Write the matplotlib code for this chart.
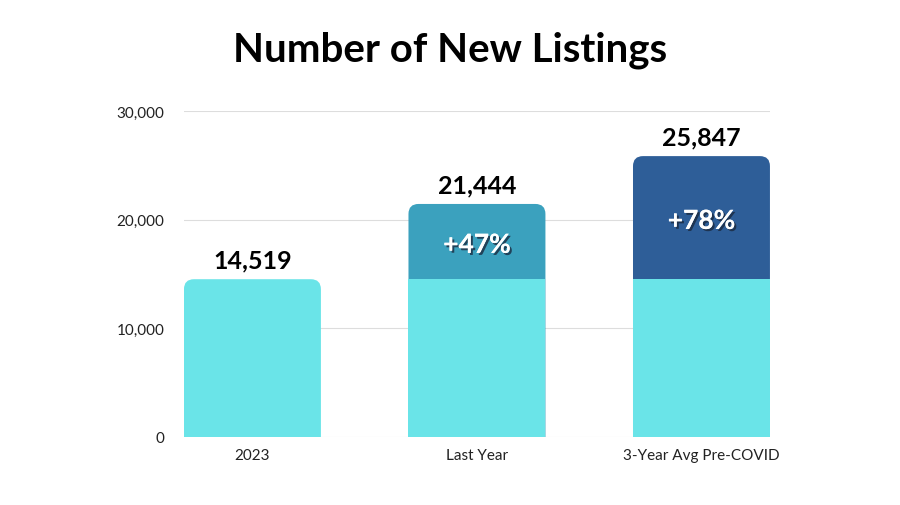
import matplotlib.pyplot as plt
import matplotlib.patheffects as pe
from matplotlib.patches import FancyBboxPatch

categories = ['2023', 'Last Year', '3-Year Avg Pre-COVID']
base_values = [14519, 14519, 14519]
totals = [14519, 21444, 25847]
pct_labels = ['', '+47%', '+78%']
top_colors = ['#6AE4E8', '#3BA1BE', '#2E5E98']
base_color = '#6AE4E8'

plt.rcParams['font.family'] = ['Lato', 'DejaVu Sans']

fig = plt.figure(figsize=(9, 5.06), dpi=100)
ax = fig.add_axes([0.2044, 0.1344, 0.6511, 0.6443])

width = 0.61
ax.set_xlim(-0.305, 2.305)
ax.set_ylim(0, 30000)

# rounding: ~10px radius; aspect = y units per x unit at equal pixel length
px_x = 586 / 2.61
px_y = 326 / 30000
r = 10 / px_x
aspect = px_x / px_y

for i, (b, t) in enumerate(zip(base_values, totals)):
    patch = FancyBboxPatch((i - width / 2, -3000), width, t + 3000,
                           boxstyle=f"round,pad=0,rounding_size={r}",
                           mutation_aspect=aspect,
                           facecolor=top_colors[i], edgecolor='none', zorder=3)
    ax.add_patch(patch)
    if i > 0:
        ax.bar(i, b, width=width, color=base_color, zorder=4)
    ax.text(i, t + 700, f'{t:,}', ha='center', va='bottom',
            fontsize=18, fontweight='bold', color='black', zorder=5)
    if pct_labels[i]:
        ax.text(i, (b + t) / 2 - 300, pct_labels[i], ha='center', va='center',
                fontsize=19, fontweight='bold', color='white', zorder=6,
                path_effects=[pe.withSimplePatchShadow(offset=(1.5, -1.5),
                                                       shadow_rgbFace='#1a2a40', alpha=0.8),
                              pe.Normal()])

ax.set_yticks([0, 10000, 20000, 30000])
ax.set_yticklabels([f'{v:,}' for v in [0, 10000, 20000, 30000]])
ax.set_xticks(range(len(categories)))
ax.set_xticklabels(categories)
ax.tick_params(axis='both', length=0, labelsize=11, colors='#222222')
ax.tick_params(axis='y', pad=14)
ax.tick_params(axis='x', pad=8)
ax.grid(axis='y', color='#dddddd', linewidth=0.8, zorder=0)
ax.set_axisbelow(True)
for s in ax.spines.values():
    s.set_visible(False)

fig.text(0.5, 0.9, 'Number of New Listings', ha='center', va='center',
         fontsize=29, fontweight='bold', color='black')

fig.savefig('out.png', dpi=100)
